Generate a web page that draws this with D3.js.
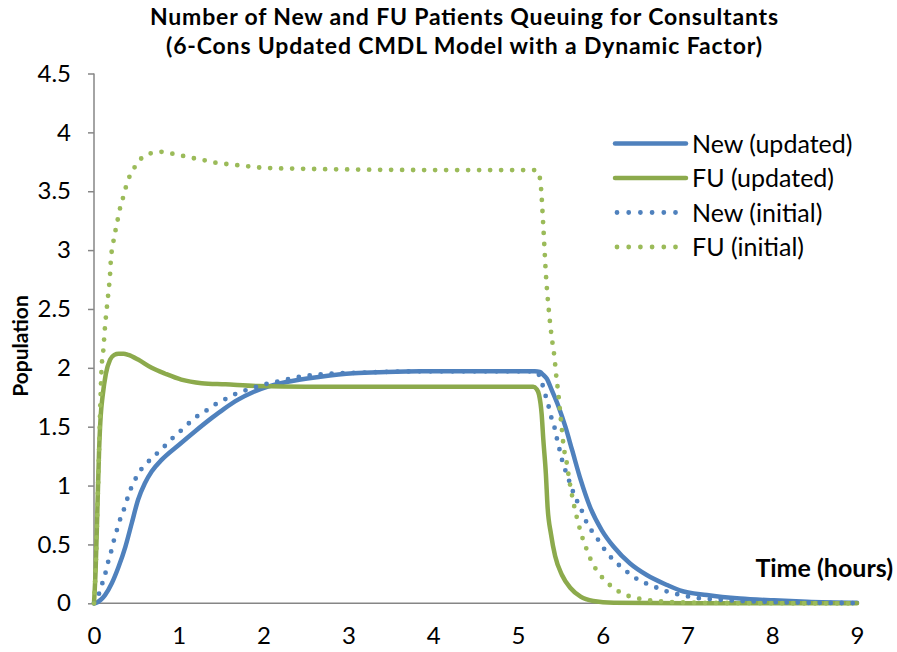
<!DOCTYPE html>
<html>
<head>
<meta charset="utf-8">
<script src="https://cdn.jsdelivr.net/npm/d3@7"></script>
<style>
  html, body { margin: 0; padding: 0; background: #fff; }
  svg { display: block; font-family: Lato, "Open Sans", sans-serif; }
</style>
</head>
<body>
<svg id="chart" width="897" height="652"></svg>
<script>
// Queue populations over time, [hours, patients]
const newUpdated = [
  [0,0],[0.03,0.005],[0.08,0.03],[0.13,0.07],[0.21,0.17],[0.29,0.31],[0.37,0.48],
  [0.445,0.68],[0.52,0.88],[0.60,1.02],[0.68,1.12],[0.80,1.22],[1.0,1.345],[1.19,1.46],
  [1.39,1.575],[1.53,1.65],[1.7,1.73],[1.88,1.795],[2.05,1.84],[2.27,1.88],[2.67,1.925],
  [3.06,1.955],[3.45,1.965],[3.85,1.97],[4.5,1.97],[5.2,1.97],[5.26,1.965],[5.30,1.94],
  [5.34,1.91],[5.40,1.81],[5.48,1.67],[5.56,1.50],[5.64,1.30],[5.74,1.05],[5.85,0.82],
  [5.99,0.62],[6.13,0.48],[6.32,0.34],[6.52,0.24],[6.76,0.155],[6.91,0.11],[7.23,0.07],
  [7.62,0.04],[8.02,0.025],[8.41,0.014],[9,0.005]
];
const fuUpdated = [
  [0,0],[0.02,0.3],[0.04,0.8],[0.06,1.3],[0.08,1.6],[0.10,1.75],[0.14,1.95],[0.19,2.07],
  [0.24,2.11],[0.29,2.12],[0.35,2.12],[0.405,2.11],[0.52,2.07],[0.68,2.0],[0.84,1.95],
  [1.03,1.9],[1.27,1.87],[1.55,1.86],[1.94,1.845],[2.5,1.84],[5.18,1.84],[5.22,1.82],
  [5.25,1.77],[5.28,1.61],[5.30,1.39],[5.33,1.10],[5.35,0.82],[5.39,0.59],[5.44,0.40],
  [5.52,0.24],[5.62,0.13],[5.74,0.056],[5.89,0.02],[6.13,0.005],[7,0],[9,0]
];
const newInitial = [
  [0,0],[0.03,0.03],[0.063,0.09],[0.10,0.175],[0.14,0.27],[0.17,0.36],[0.21,0.46],
  [0.24,0.55],[0.28,0.645],[0.32,0.74],[0.37,0.83],[0.41,0.93],[0.46,1.01],[0.52,1.10],
  [0.61,1.18],[0.70,1.245],[0.80,1.31],[0.90,1.385],[1.0,1.45],[1.09,1.51],[1.2,1.58],
  [1.31,1.63],[1.42,1.685],[1.55,1.735],[1.66,1.775],[1.79,1.81],[1.92,1.84],[2.01,1.86],
  [2.14,1.88],[2.27,1.90],[2.40,1.92],[2.53,1.935],[2.8,1.95],[3.2,1.96],[3.8,1.97],
  [4.5,1.97],[5.2,1.97],[5.24,1.95],[5.28,1.88],[5.32,1.78],[5.36,1.68],[5.39,1.59],
  [5.43,1.50],[5.46,1.40],[5.49,1.31],[5.52,1.22],[5.59,1.07],[5.66,0.93],[5.77,0.76],
  [5.82,0.67],[5.90,0.59],[6.02,0.46],[6.11,0.38],[6.20,0.32],[6.31,0.255],[6.42,0.20],
  [6.54,0.16],[6.67,0.124],[6.79,0.093],[6.93,0.07],[7.07,0.05],[7.4,0.03],[7.8,0.015],
  [8.3,0.006],[9,0.002]
];
const fuInitial = [
  [0,0],[0.02,0.3],[0.04,0.8],[0.06,1.3],[0.075,1.7],[0.09,2.0],[0.11,2.15],[0.13,2.35],
  [0.15,2.5],[0.17,2.64],[0.19,2.8],[0.2,2.93],[0.22,3.03],[0.24,3.12],[0.27,3.22],
  [0.295,3.32],[0.33,3.41],[0.366,3.51],[0.405,3.6],[0.468,3.69],[0.546,3.77],[0.66,3.82],
  [0.79,3.835],[0.92,3.82],[1.05,3.80],[1.18,3.78],[1.32,3.76],[1.45,3.74],[1.58,3.73],
  [1.71,3.72],[1.84,3.71],[1.98,3.70],[2.5,3.69],[3,3.685],[4,3.68],[5,3.68],[5.2,3.68],
  [5.24,3.66],[5.27,3.55],[5.30,3.2],[5.33,2.8],[5.37,2.45],[5.41,2.2],[5.43,2.1],
  [5.45,1.95],[5.48,1.76],[5.50,1.61],[5.52,1.47],[5.54,1.33],[5.57,1.22],[5.61,1.03],
  [5.66,0.84],[5.72,0.66],[5.76,0.56],[5.81,0.46],[5.86,0.37],[5.92,0.29],[6.02,0.20],
  [6.11,0.14],[6.23,0.085],[6.36,0.05],[6.48,0.034],[6.7,0.015],[7,0.006],[8,0.001],[9,0]
];

const seriesNames = ["New (updated)", "FU (updated)", "New (initial)", "FU (initial)"];
const xTicks = [0, 1, 2, 3, 4, 5, 6, 7, 8, 9];
const yTicks = [0, 0.5, 1, 1.5, 2, 2.5, 3, 3.5, 4, 4.5];
const titleLines = [
  "Number of New and FU Patients Queuing for Consultants",
  "(6-Cons Updated CMDL Model with a Dynamic Factor)"
];
const titleWidths = [628, 596];

const series = [
  { name: seriesNames[0], data: newUpdated, color: "#4F81BD", dotted: false },
  { name: seriesNames[1], data: fuUpdated,  color: "#8CAA4C", dotted: false },
  { name: seriesNames[2], data: newInitial, color: "#4F81BD", dotted: true },
  { name: seriesNames[3], data: fuInitial,  color: "#9BBB59", dotted: true }
];

const svg = d3.select("#chart");
const plotLeft = 94, plotRight = 857, plotTop = 73.5, plotBottom = 603.3;

const x = d3.scaleLinear().domain([0, 9]).range([plotLeft, plotRight]);
const y = d3.scaleLinear().domain([0, 4.5]).range([plotBottom, plotTop]);

const axisColor = "#868686";

// Title
svg.append("g").selectAll("text").data(titleLines).join("text")
  .attr("x", 464).attr("y", (d, i) => 25 + i * 29)
  .attr("text-anchor", "middle")
  .attr("font-weight", "bold").attr("font-size", 23)
  .attr("textLength", (d, i) => titleWidths[i])
  .attr("lengthAdjust", "spacing")
  .attr("fill", "#000")
  .text(d => d);

// Y axis
const yAxis = svg.append("g").attr("transform", `translate(${plotLeft},0)`)
  .call(d3.axisLeft(y).tickValues(yTicks).tickSize(6).tickPadding(17)
    .tickFormat(d => String(d)));
yAxis.select(".domain").attr("stroke", axisColor).attr("stroke-width", 1.5)
  .attr("d", `M0,${plotTop}V${plotBottom}`);
yAxis.selectAll(".tick line").attr("stroke", axisColor).attr("stroke-width", 1.5);
yAxis.selectAll(".tick text").attr("font-size", 24).attr("fill", "#000")
  .attr("font-family", "Lato, sans-serif");

// X axis
const xAxis = svg.append("g").attr("transform", `translate(0,${plotBottom})`)
  .call(d3.axisBottom(x).tickValues(xTicks).tickSize(0).tickPadding(24)
    .tickFormat(d => String(d)));
xAxis.select(".domain").attr("stroke", axisColor).attr("stroke-width", 1.5)
  .attr("d", `M${plotLeft},0H${plotRight}`);
xAxis.selectAll(".tick text").attr("font-size", 24).attr("fill", "#000")
  .attr("font-family", "Lato, sans-serif");

// Axis titles
svg.append("text")
  .attr("transform", "translate(28,346) rotate(-90)")
  .attr("text-anchor", "middle")
  .attr("font-weight", "bold").attr("font-size", 21)
  .text("Population");
svg.append("text")
  .attr("x", 893).attr("y", 577)
  .attr("text-anchor", "end")
  .attr("font-weight", "bold").attr("font-size", 25)
  .text("Time (hours)");

// Series lines
const line = d3.line()
  .x(d => x(d[0])).y(d => y(d[1]))
  .curve(d3.curveMonotoneX);

svg.append("g").selectAll("path").data(series).join("path")
  .attr("d", d => line(d.data))
  .attr("fill", "none")
  .attr("stroke", d => d.color)
  .attr("stroke-width", d => d.dotted ? 4.8 : 4.5)
  .attr("stroke-linecap", "round")
  .attr("stroke-linejoin", "round")
  .attr("stroke-dasharray", d => d.dotted ? "0 11" : null);

// Legend
const legend = svg.append("g").attr("transform", "translate(615,143.5)");
const rows = legend.selectAll("g").data(series).join("g")
  .attr("transform", (d, i) => `translate(0,${i * 34.5})`);
rows.append("line")
  .attr("x1", d => d.dotted ? 2 : 0).attr("x2", 71)
  .attr("y1", 0).attr("y2", 0)
  .attr("stroke", d => d.color)
  .attr("stroke-width", d => d.dotted ? 4.8 : 4.5)
  .attr("stroke-linecap", "round")
  .attr("stroke-dasharray", d => d.dotted ? "0 11.7" : null);
rows.append("text")
  .attr("x", 77).attr("y", 9)
  .attr("font-size", 25).attr("fill", "#000")
  .text(d => d.name);
</script>
</body>
</html>
